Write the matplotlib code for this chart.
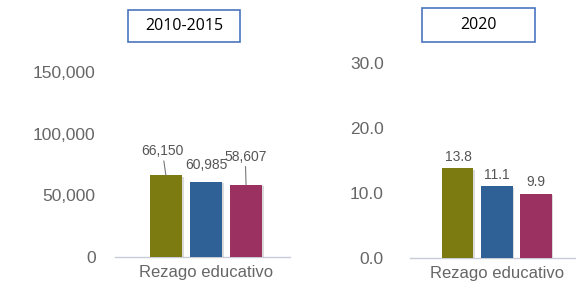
import matplotlib
matplotlib.use("Agg")
import matplotlib.pyplot as plt
from matplotlib.patches import Rectangle
import matplotlib.patheffects as pe

category = "Rezago educativo"
series_colors = ["#7b7b12", "#2f6196", "#9b3161"]
values_2010_2015 = [66150, 60985, 58607]
labels_2010_2015 = ["66,150", "60,985", "58,607"]
values_2020 = [13.8, 11.1, 9.9]
labels_2020 = ["13.8", "11.1", "9.9"]
yticks_left = [0, 50000, 100000, 150000]
yticklabels_left = ["0", "50,000", "100,000", "150,000"]
yticks_right = [0.0, 10.0, 20.0, 30.0]
yticklabels_right = ["0.0", "10.0", "20.0", "30.0"]
titles = ["2010-2015", "2020"]

W, H = 576, 293
fig = plt.figure(figsize=(W / 100, H / 100), dpi=100)
fig.patch.set_facecolor("white")

txt_color = "#666666"
lab_color = "#555555"
font = "Liberation Sans"

def px_axes(x0, x1, y_top, y_bot):
    return fig.add_axes([x0 / W, (H - y_bot) / H, (x1 - x0) / W, (y_bot - y_top) / H])

def style(ax, yticks, ylabels, ylim, xlim, pad):
    ax.set_facecolor("none")
    for s in ["top", "right", "left"]:
        ax.spines[s].set_visible(False)
    ax.spines["bottom"].set_color("#c8ccd6")
    ax.spines["bottom"].set_linewidth(1)
    ax.set_ylim(*ylim)
    ax.set_xlim(*xlim)
    ax.set_yticks(yticks)
    ax.set_yticklabels(ylabels, fontsize=12.5, color=txt_color, family=font)
    ax.tick_params(axis="y", length=0, pad=pad)
    ax.set_xticks([0])
    ax.set_xticklabels([category], fontsize=12, color=txt_color, family=font)
    ax.tick_params(axis="x", length=0, pad=6)

shadow = [pe.SimplePatchShadow(offset=(1.2, -1.2), shadow_rgbFace="#888888", alpha=0.3), pe.Normal()]

# Left panel
axL = px_axes(115, 290, 72, 257)
style(axL, yticks_left, yticklabels_left, (0, 150000), (-0.52, 0.48), 14)
spL = 0.229
wL = 0.183
for i, (v, c) in enumerate(zip(values_2010_2015, series_colors)):
    b = axL.bar((i - 1) * spL, v, width=wL, color=c, zorder=3)
    for p in b:
        p.set_path_effects(shadow)
# value labels with leader lines
lab_offsets = [(-0.02, 14000), (0.0, 8000), (-0.005, 17000)]
for i, (v, lab) in enumerate(zip(values_2010_2015, labels_2010_2015)):
    x = (i - 1) * spL
    dx, dy = lab_offsets[i]
    axL.annotate(lab, xy=(x, v), xytext=(x + dx, v + dy), ha="center", va="bottom",
                 fontsize=10, color=lab_color, family=font,
                 arrowprops=dict(arrowstyle="-", color="#777777", lw=0.8,
                                 shrinkA=0, shrinkB=0) if i != 1 else None)

# Right panel
axR = px_axes(410, 576, 63, 258)
style(axR, yticks_right, yticklabels_right, (0, 30), (-0.524, 0.476), 19)
spR = 0.235
wR = 0.187
for i, (v, c) in enumerate(zip(values_2020, series_colors)):
    b = axR.bar((i - 1) * spR, v, width=wR, color=c, zorder=3)
    for p in b:
        p.set_path_effects(shadow)
    axR.annotate(labels_2020[i], xy=((i - 1) * spR, v), xytext=(0, 3), textcoords="offset points",
                 ha="center", va="bottom", fontsize=10, color=lab_color, family=font)

# Title boxes
for (x0, y0, x1, y1), t in zip([(128, 10, 240, 42), (422, 8, 535, 42)], titles):
    fig.patches.append(Rectangle((x0 / W, (H - y1) / H), (x1 - x0) / W, (y1 - y0) / H,
                                 transform=fig.transFigure, facecolor="white",
                                 edgecolor="#4a74bf", linewidth=1.2))
    fig.text((x0 + x1) / 2 / W, (H - (y0 + y1) / 2) / H, t, ha="center", va="center",
             fontsize=11.5, color="black", family="Open Sans")

fig.savefig("out.png", dpi=100, facecolor="white")
